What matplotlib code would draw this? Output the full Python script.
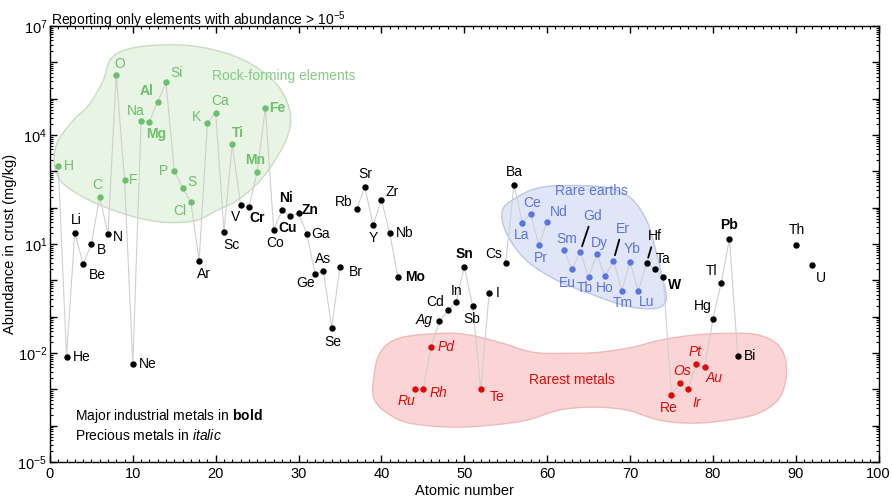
import numpy as np
import matplotlib
matplotlib.use("Agg")
import matplotlib.pyplot as plt
from matplotlib.patches import Polygon
from matplotlib.ticker import LogLocator, FuncFormatter, MultipleLocator

plt.rcParams["font.family"] = ["Liberation Sans", "DejaVu Sans"]
plt.rcParams["mathtext.fontset"] = "custom"
plt.rcParams["mathtext.rm"] = "Liberation Sans"
plt.rcParams["mathtext.bf"] = "Liberation Sans:bold"
plt.rcParams["mathtext.it"] = "Liberation Sans:italic"
plt.rcParams["mathtext.default"] = "regular"

symbols = ["H", "He", "Li", "Be", "B", "C", "N", "O", "F", "Ne",
           "Na", "Mg", "Al", "Si", "P", "S", "Cl", "Ar", "K", "Ca",
           "Sc", "Ti", "V", "Cr", "Mn", "Fe", "Co", "Ni", "Cu", "Zn",
           "Ga", "Ge", "As", "Se", "Br", "Kr", "Rb", "Sr", "Y", "Zr",
           "Nb", "Mo", "Tc", "Ru", "Rh", "Pd", "Ag", "Cd", "In", "Sn",
           "Sb", "Te", "I", "Xe", "Cs", "Ba", "La", "Ce", "Pr", "Nd",
           "Pm", "Sm", "Eu", "Gd", "Tb", "Dy", "Ho", "Er", "Tm", "Yb",
           "Lu", "Hf", "Ta", "W", "Re", "Os", "Ir", "Pt", "Au", "Hg",
           "Tl", "Pb", "Bi", "Po", "At", "Rn", "Fr", "Ra", "Ac", "Th",
           "Pa", "U"]

# mg/kg, None = not reported
abundance = [1400, 0.008, 20, 2.8, 10, 200, 19, 461000, 585, 0.005,
             23600, 23300, 82300, 282000, 1050, 350, 145, 3.5, 20900, 41500,
             22, 5650, 120, 102, 950, 56300, 25, 84, 60, 70,
             19, 1.5, 1.8, 0.05, 2.4, None, 90, 370, 33, 165,
             20, 1.2, None, 0.001, 0.001, 0.015, 0.075, 0.15, 0.25, 2.3,
             0.2, 0.001, 0.45, None, 3, 425, 39, 66.5, 9.2, 41.5,
             None, 7.05, 2.0, 6.2, 1.2, 5.2, 1.3, 3.5, 0.52, 3.2,
             0.5, 3.0, 2.0, 1.25, 0.0007, 0.0015, 0.001, 0.005, 0.004, 0.085,
             0.85, 14, 0.0085, None, None, None, None, None, None, 9.6,
             None, 2.7]

rock_forming = ["H", "C", "O", "F", "Na", "Mg", "Al", "Si", "P", "S", "Cl",
                "K", "Ca", "Ti", "Mn", "Fe"]
rare_earths = ["La", "Ce", "Pr", "Nd", "Sm", "Eu", "Gd", "Tb", "Dy", "Ho",
               "Er", "Tm", "Yb", "Lu"]
rarest = ["Ru", "Rh", "Pd", "Te", "Re", "Os", "Ir", "Pt", "Au"]
bold = ["Mg", "Al", "Ti", "Mn", "Fe", "Cr", "Ni", "Cu", "Zn", "Mo", "Sn", "W", "Pb"]
italic = ["Ag", "Pd", "Ru", "Rh", "Os", "Ir", "Pt", "Au"]
leader = ["Gd", "Er", "Hf"]

# label offsets in pixels (dx, dy up)
offsets = {
    "H": (11, 0), "He": (15, 0), "Li": (2, 13), "Be": (14, -11), "B": (10, -6),
    "C": (-2, 12), "N": (10, -3), "O": (4, 11), "F": (9, 0), "Ne": (15, 0),
    "Na": (-5, 10), "Mg": (7, -12), "Al": (-11, 11), "Si": (11, 9), "P": (-11, 0),
    "S": (9, 6), "Cl": (-11, -9), "Ar": (5, -13), "K": (-11, 6), "Ca": (4, 12),
    "Sc": (7, -13), "Ti": (6, 11), "V": (-5, -12), "Cr": (8, -11), "Mn": (-2, 12),
    "Fe": (12, 0), "Co": (1, -13), "Ni": (4, 12), "Cu": (-3, -12), "Zn": (12, 3),
    "Ga": (14, 0), "Ge": (-10, -9), "As": (0, 12), "Se": (1, -14), "Br": (16, -5),
    "Rb": (-13, 7), "Sr": (0, 13), "Y": (0, -13), "Zr": (11, 8), "Nb": (15, 0),
    "Mo": (17, 0), "Ru": (-8, -12), "Rh": (16, -4), "Pd": (15, 0), "Ag": (-15, 1),
    "Cd": (-13, 8), "In": (1, 11), "Sn": (0, 13), "Sb": (-1, -13), "Te": (16, -8),
    "I": (9, 0), "Cs": (-12, 9), "Ba": (0, 13), "La": (-1, -12), "Ce": (2, 11),
    "Pr": (2, -13), "Nd": (12, 10), "Sm": (3, 11), "Eu": (-5, -14), "Gd": (12, 36),
    "Tb": (-4, -11), "Dy": (3, 11), "Ho": (0, -12), "Er": (9, 32), "Tm": (1, -12),
    "Yb": (2, 13), "Lu": (8, -11), "Hf": (8, 27), "Ta": (8, 10), "W": (11, -8),
    "Re": (-3, -13), "Os": (2, 12), "Ir": (9, -14), "Pt": (-1, 12), "Au": (10, -11),
    "Hg": (-10, 13), "Tl": (-10, 12), "Pb": (0, 14), "Bi": (12, 0), "Th": (1, 15),
    "U": (9, -13),
}

# region outlines: (atomic number, log10 abundance)
green_blob = [(0.6, 3.57), (0.6, 3.10), (1.6, 2.66), (4.8, 2.20), (8.8, 1.84),
              (12.1, 1.65), (14.8, 1.59), (17.7, 1.65), (20.1, 1.92), (22.6, 2.20),
              (25.0, 2.66), (26.9, 3.21), (28.6, 3.93), (29.0, 4.59), (27.7, 5.30),
              (25.0, 5.85), (21.4, 6.24), (16.9, 6.46), (12.1, 6.46), (8.8, 6.32),
              (7.2, 6.04), (6.4, 5.49), (4.8, 4.86), (2.8, 4.40), (1.2, 3.93)]
blue_blob = [(59.1, 2.55), (63.1, 2.61), (67.2, 2.55), (70.0, 2.28), (72.0, 1.65),
             (73.2, 0.74), (73.9, 0.08), (74.4, -0.47), (73.6, -0.74), (71.2, -0.77),
             (68.4, -0.63), (65.1, -0.36), (61.2, 0.0), (57.5, 0.55), (55.1, 1.29),
             (54.6, 1.92), (56.3, 2.28)]
red_blob = [(39.0, -2.83), (39.8, -2.01), (42.2, -1.59), (47.4, -1.46), (50.7, -1.51),
            (54.6, -1.73), (58.3, -1.98), (62.4, -2.01), (66.3, -1.98), (70.3, -1.84),
            (73.6, -1.65), (77.6, -1.51), (81.7, -1.46), (85.6, -1.51), (88.1, -1.84),
            (88.9, -2.47), (88.1, -3.21), (85.6, -3.65), (81.7, -3.85), (77.6, -3.93),
            (73.6, -3.85), (69.6, -3.57), (65.5, -3.49), (61.5, -3.57), (57.5, -3.85),
            (53.4, -3.98), (48.6, -4.04), (43.4, -3.93), (40.7, -3.65), (39.2, -3.30)]

GREEN = "#6cbf6c"
BLUE = "#5a74e0"
RED = "#dd0a0a"


def smooth(pts, n=16):
    P = np.array(pts, dtype=float)
    m = len(P)
    t = np.linspace(0, 1, n, endpoint=False)[:, None]
    out = []
    for i in range(m):
        p0, p1, p2, p3 = P[i - 1], P[i], P[(i + 1) % m], P[(i + 2) % m]
        out.append(0.5 * (2 * p1 + (-p0 + p2) * t + (2 * p0 - 5 * p1 + 4 * p2 - p3) * t ** 2
                          + (-p0 + 3 * p1 - 3 * p2 + p3) * t ** 3))
    s = np.vstack(out)
    return np.column_stack([s[:, 0], 10 ** s[:, 1]])


fig = plt.figure(figsize=(8.92, 5.0), dpi=100)
ax = fig.add_axes([0.056, 0.076, 0.929, 0.872])

for blob, fc, ec in [(green_blob, "#e8f4e4", "#c9dcc3"),
                     (blue_blob, "#e0e6f8", "#bcc7e6"),
                     (red_blob, "#fbd5d5", "#eebaba")]:
    ax.add_patch(Polygon(smooth(blob), closed=True, facecolor=fc, edgecolor=ec,
                         lw=1.0, zorder=0))

z = np.arange(1, len(symbols) + 1)
vals = np.array([np.nan if v is None else v for v in abundance], dtype=float)
ax.plot(z, vals, color="#cfcfcf", lw=0.8, zorder=1)

for zi, sym, v in zip(z, symbols, abundance):
    if v is None:
        continue
    if sym in rock_forming:
        c = GREEN
    elif sym in rare_earths:
        c = BLUE
    elif sym in rarest:
        c = RED
    else:
        c = "black"
    ax.plot(zi, v, "o", color=c, ms=4.6, mec="none", zorder=3)
    dx, dy = offsets[sym]
    kw = dict(xy=(zi, v), xytext=(dx, dy), textcoords="offset pixels",
              ha="center", va="center", fontsize=10, color=c, zorder=4,
              fontweight="bold" if sym in bold else "normal",
              fontstyle="italic" if sym in italic else "normal")
    if sym in leader:
        kw["arrowprops"] = dict(arrowstyle="-", color="black", lw=1.3,
                                shrinkA=1, shrinkB=4)
    ax.annotate(sym, **kw)

ax.text(19.5, 10 ** 5.63, "Rock-forming elements", color="#86c986", fontsize=10,
        ha="left", va="center")
ax.text(65.4, 10 ** 2.45, "Rare earths", color=BLUE, fontsize=10,
        ha="center", va="center")
ax.text(63.0, 10 ** -2.75, "Rarest metals", color=RED, fontsize=10,
        ha="center", va="center")

ax.text(3.0, 10 ** -3.74, "Major industrial metals in $\\mathbf{bold}$", fontsize=10,
        ha="left", va="center")
ax.text(3.0, 10 ** -4.26, "Precious metals in $\\mathit{italic}$", fontsize=10,
        ha="left", va="center")

ax.set_xlim(0, 100)
ax.set_yscale("log")
ax.set_ylim(1e-5, 1e7)
ax.xaxis.set_major_locator(MultipleLocator(10))
ax.xaxis.set_minor_locator(MultipleLocator(1))
ax.yaxis.set_major_locator(LogLocator(base=10, numticks=20))
ax.yaxis.set_minor_locator(LogLocator(base=10, subs=np.arange(2, 10), numticks=20))
ax.yaxis.set_major_formatter(FuncFormatter(
    lambda v, p: "$10^{%d}$" % round(np.log10(v)) if round(np.log10(v)) % 3 == 1 else ""))
ax.tick_params(which="both", direction="in", top=True, right=True, labelsize=10.5)
ax.tick_params(which="major", length=5, width=1)
ax.tick_params(which="minor", length=2.5, width=0.8)
ax.tick_params(axis="y", pad=2)
for s in ax.spines.values():
    s.set_linewidth(1.0)

ax.set_xlabel("Atomic number", fontsize=10.5, labelpad=2)
ax.set_ylabel("Abundance in crust (mg/kg)", fontsize=10.5, labelpad=0)
fig.text(0.057, 0.982, "Reporting only elements with abundance > $10^{-5}$",
         fontsize=10, ha="left", va="top")

fig.savefig("out.png", dpi=100)
